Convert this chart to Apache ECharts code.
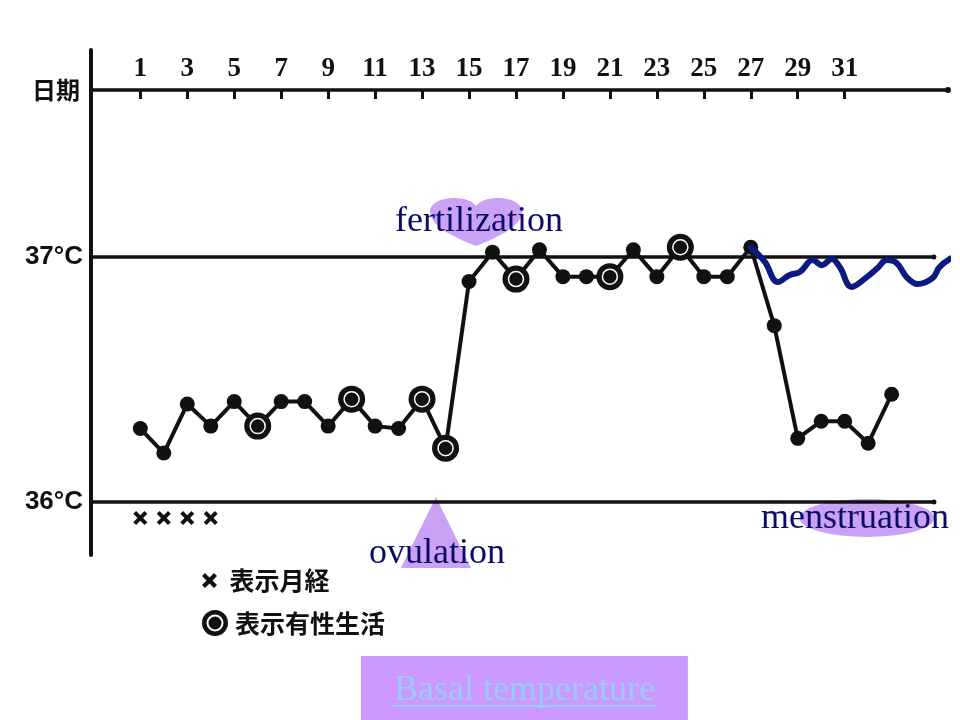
<!DOCTYPE html>
<html>
<head>
<meta charset="utf-8">
<script src="https://cdn.jsdelivr.net/npm/echarts@6/dist/echarts.min.js"></script>
<style>html,body{margin:0;padding:0;background:#fff;}#main{width:960px;height:720px;}</style>
</head>
<body>
<div id="main"></div>
<script>
// ---- data ----
const dayLabels = [1, 3, 5, 7, 9, 11, 13, 15, 17, 19, 21, 23, 25, 27, 29, 31];
const days = [1, 2, 3, 4, 5, 6, 7, 8, 9, 10, 11, 12, 13, 14, 15, 16, 17, 18, 19, 20, 21, 22, 23, 24, 25, 26, 27, 28, 29, 30, 31, 32, 33];
const temps = [36.30, 36.20, 36.40, 36.31, 36.41, 36.31, 36.41, 36.41, 36.31, 36.42, 36.31, 36.30, 36.42, 36.22,
               36.90, 37.02, 36.91, 37.03, 36.92, 36.92, 36.92, 37.03, 36.92, 37.04, 36.92, 36.92, 37.04,
               36.72, 36.26, 36.33, 36.33, 36.24, 36.44];
const intercourseDays = [6, 10, 13, 14, 17, 21, 24];
const menstruationDays = [1, 2, 3, 4];
const menstruationMarkTemp = 35.935;
const pregnancyDays = [27, 27.60, 28.15, 28.66, 29.09, 29.64, 30.03, 30.45, 30.79, 31.30, 31.94, 32.40, 32.79, 33.21, 33.64, 34.11, 34.74, 35.04, 35.47, 35.68];
const pregnancyTemps = [37.04, 36.98, 36.898, 36.927, 36.939, 36.988, 36.967, 36.992, 36.959, 36.878, 36.918, 36.955, 36.988, 36.976, 36.918, 36.890, 36.914, 36.959, 36.992, 36.996];
const refTemps = [37, 36];
const refLineEndDay = 34.8;
const annotationNames = ['fertilization', 'ovulation', 'menstruation'];
const annotationDays = [15.30, 13.59, 31.95];
const annotationTemps = [37.143, 35.876, 35.935];
const legendNames = ['表示月経', '表示有性生活'];
const titleText = 'Basal temperature';

// ---- styles ----
const INK = '#111';
const NAVY = '#0c0c68';
const PURPLE = '#c9a2f6';
const X_PATH = 'path://M4,0 L10,6 L16,0 L20,4 L14,10 L20,16 L16,20 L10,14 L4,20 L0,16 L6,10 L0,4 Z';
const RING_PATH = 'path://M0,12 A12,12 0 1,1 24,12 A12,12 0 1,1 0,12 Z M4.2,12 A7.8,7.8 0 1,0 19.8,12 A7.8,7.8 0 1,0 4.2,12 Z M6,12 A6,6 0 1,1 18,12 A6,6 0 1,1 6,12 Z';
const HEART_PATH = 'path://M50,90 C20,70 0,50 0,25 C0,10 12,0 27,0 C38,0 46,6 50,15 C54,6 62,0 73,0 C88,0 100,10 100,25 C100,50 80,70 50,90 Z';

const mainData = days.map((d, i) => [d, temps[i]]);
const intercourseData = intercourseDays.map(d => [d, temps[days.indexOf(d)]]);
const menstruationData = menstruationDays.map(d => [d, menstruationMarkTemp]);
const pregnancyData = pregnancyDays.map((d, i) => [d, pregnancyTemps[i]]);

const annotationStyles = [
  { symbol: HEART_PATH, symbolSize: [92, 48], offset: [3, 0] },
  { symbol: 'triangle', symbolSize: [70, 71], offset: [1, 21] },
  { symbol: 'circle', symbolSize: [135, 38], offset: [-12, 1] }
];
const annotationData = annotationNames.map((n, i) => ({
  name: n,
  value: [annotationDays[i], annotationTemps[i]],
  symbol: annotationStyles[i].symbol,
  symbolSize: annotationStyles[i].symbolSize,
  label: { offset: annotationStyles[i].offset }
}));

const chart = echarts.init(document.getElementById('main'), null, { renderer: 'canvas' });
const option = {
  animation: false,
  backgroundColor: '#fff',
  title: {
    text: titleText,
    left: 361, top: 656,
    padding: [17, 33, 30, 33],
    backgroundColor: '#cc99ff',
    textStyle: { color: '#99ccff', fontFamily: 'Liberation Serif', fontSize: 36, fontWeight: 'normal', lineHeight: 36 }
  },
  graphic: [
    { type: 'line', z: 100, zlevel: 0, shape: { x1: 393, y1: 706, x2: 657, y2: 706 }, style: { stroke: '#99ccff', lineWidth: 2 }, silent: true }
  ],
  legend: [
    {
      data: [{ name: legendNames[0], icon: X_PATH, itemStyle: { color: INK, opacity: 1 } }],
      left: 197, top: 563, orient: 'vertical', selectedMode: false,
      itemWidth: 30, itemHeight: 15,
      textStyle: { color: INK, fontSize: 25, fontWeight: 'bold', fontFamily: 'Noto Sans CJK JP' }
    },
    {
      data: [{ name: legendNames[1], icon: RING_PATH, itemStyle: { color: INK, opacity: 1 } }],
      left: 197, top: 605, orient: 'vertical', selectedMode: false,
      itemWidth: 30, itemHeight: 26,
      textStyle: { color: INK, fontSize: 25, fontWeight: 'bold', fontFamily: 'Noto Sans CJK JP' }
    }
  ],
  grid: { left: 91, right: 12, top: 50, bottom: 165, containLabel: false },
  xAxis: {
    type: 'value', position: 'top', offset: -40,
    min: -1.1, max: 35.4,
    name: '日期', nameLocation: 'start', nameGap: 11,
    nameTextStyle: { color: INK, fontSize: 24, fontWeight: 'bold', fontFamily: 'Noto Sans CJK JP', padding: [0, 0, 30, 0] },
    axisLine: { show: true, onZero: false, symbol: ['none', 'circle'], symbolSize: [6, 6], lineStyle: { color: INK, width: 3.5 } },
    axisTick: { show: true, inside: true, length: 9, customValues: dayLabels, lineStyle: { color: INK, width: 3 } },
    axisLabel: { show: true, customValues: dayLabels, margin: 7, color: INK, fontSize: 27, fontWeight: 'bold', fontFamily: 'Liberation Serif' },
    splitLine: { show: false }
  },
  yAxis: {
    type: 'value', min: 35.784, max: 37.845,
    axisLine: { show: true, onZero: false, lineStyle: { color: INK, width: 4 } },
    axisTick: { show: false }, axisLabel: { show: false }, splitLine: { show: false }
  },
  series: [
    {
      name: 'annotations', type: 'scatter', z: 1, data: annotationData,
      itemStyle: { color: PURPLE, opacity: 1 },
      label: {
        show: true, position: 'inside', formatter: p => p.name,
        color: NAVY, fontFamily: 'Liberation Serif', fontSize: 36
      },
      emphasis: { disabled: true }, silent: true
    },
    {
      name: 'reference', type: 'line', z: 2, data: [],
      markLine: {
        silent: true, symbol: ['none', 'circle'], symbolSize: 5,
        lineStyle: { color: INK, width: 3.5, type: 'solid' },
        label: { show: true, position: 'start', distance: 8, color: INK, fontSize: 26, fontWeight: 'bold', fontFamily: 'Liberation Sans',
                 formatter: p => p.value + '°C' },
        data: refTemps.map(t => [{ coord: [-1.1, t], value: t }, { coord: [refLineEndDay, t] }])
      }
    },
    {
      name: 'temperature', type: 'line', z: 3, data: mainData,
      symbol: 'circle', symbolSize: 15, showAllSymbol: true,
      lineStyle: { color: INK, width: 4 }, itemStyle: { color: INK },
      emphasis: { disabled: true }
    },
    {
      name: legendNames[1], type: 'scatter', z: 4, data: intercourseData,
      symbol: 'circle', symbolSize: 27, itemStyle: { color: INK, opacity: 1 }, emphasis: { disabled: true }
    },
    {
      name: 'ring', type: 'scatter', z: 5, data: intercourseData,
      symbol: 'circle', symbolSize: 15, itemStyle: { color: INK, opacity: 1, borderColor: '#fff', borderWidth: 1.5 }, emphasis: { disabled: true }
    },
    {
      name: legendNames[0], type: 'scatter', z: 4, data: menstruationData,
      symbol: X_PATH, symbolSize: 14, itemStyle: { color: INK, opacity: 1 }, emphasis: { disabled: true }
    },
    {
      name: 'pregnancy', type: 'line', z: 6, data: pregnancyData, clip: false,
      smooth: 0.4, symbol: 'none', lineStyle: { color: '#0a1a80', width: 6, cap: 'round', join: 'round' },
      emphasis: { disabled: true }
    }
  ]
};
chart.setOption(option);
</script>
</body>
</html>
